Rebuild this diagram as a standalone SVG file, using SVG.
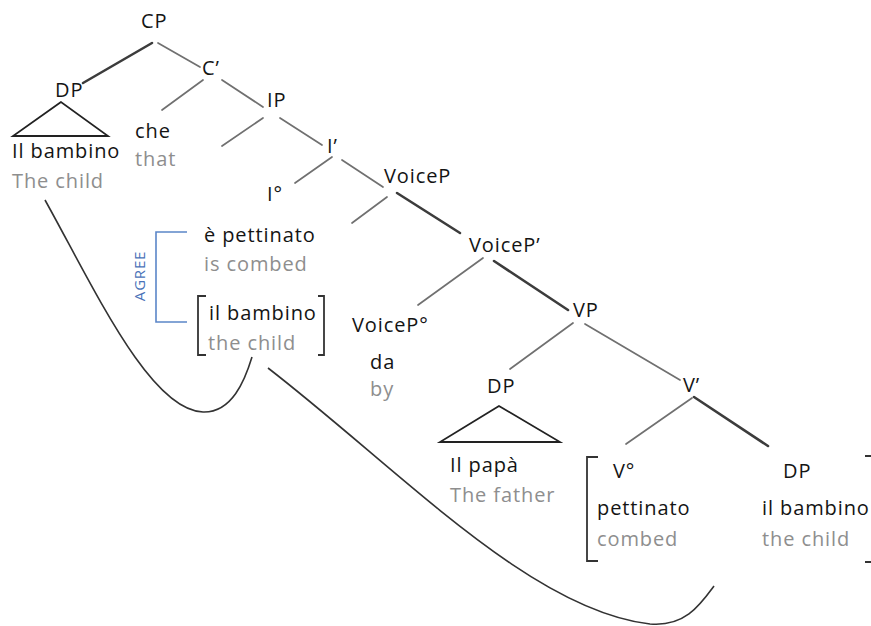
<svg xmlns="http://www.w3.org/2000/svg" width="871" height="626" viewBox="0 0 871 626">
  <style>
    text { font-family: "Open Sans", "Noto Sans", "DejaVu Sans", sans-serif; font-size: 20px; letter-spacing: 0.9px; }
    .lab { fill: #141414; }
    .gl { fill: #8e8e8e; }
    .agree { fill: #4a72b8; font-size: 15px; letter-spacing: 0.8px; }
    .edge { stroke: #707070; stroke-width: 1.7; fill: none; stroke-linecap: round; }
    .edge.heavy { stroke: #3c3c3c; stroke-width: 2.6; }
    .tri { stroke: #222; stroke-width: 1.8; fill: none; stroke-linejoin: miter; }
    .br { stroke: #333; stroke-width: 1.8; fill: none; }
    .br.blue { stroke: #5b86c8; stroke-width: 1.6; }
    .mv { stroke: #333; stroke-width: 1.6; fill: none; }
  </style>

  <!-- tree branches -->
  <g id="connectors">
    <line class="edge heavy" x1="152" y1="43" x2="83" y2="83"/>
    <line class="edge" x1="158" y1="43" x2="200" y2="67"/>
    <line class="edge" x1="203" y1="80" x2="162" y2="110"/>
    <line class="edge" x1="222" y1="80" x2="263" y2="107"/>
    <line class="edge" x1="263" y1="118" x2="222" y2="146"/>
    <line class="edge" x1="280" y1="118" x2="322" y2="145"/>
    <line class="edge" x1="332" y1="157" x2="295" y2="183"/>
    <line class="edge" x1="342" y1="160" x2="383" y2="187"/>
    <line class="edge" x1="387" y1="197" x2="352" y2="223"/>
    <line class="edge heavy" x1="397" y1="193" x2="460" y2="233"/>
    <line class="edge" x1="483" y1="258" x2="418" y2="305"/>
    <line class="edge heavy" x1="494" y1="261" x2="568" y2="310"/>
    <line class="edge" x1="573" y1="323" x2="510" y2="369"/>
    <line class="edge" x1="585" y1="324" x2="680" y2="380"/>
    <line class="edge" x1="692" y1="398" x2="626" y2="444"/>
    <line class="edge heavy" x1="694" y1="397" x2="768" y2="446"/>
    <!-- movement curves -->
    <path class="mv" d="M45,200 C95,290 150,410 203,412 C232,413 245,380 252,357"/>
    <path class="mv" d="M268,368 C400,470 530,610 650,624 C685,627 700,605 714,586"/>
  </g>

  <g id="cp"><text class="lab" x="141" y="28">CP</text></g>
  <g id="c-bar"><text class="lab" x="202" y="75">C’</text></g>
  <g id="dp-subject">
    <text class="lab" x="55" y="97">DP</text>
    <polygon class="tri" points="61,102 13,136 108,136"/>
    <text class="lab" x="12" y="158">Il bambino</text>
    <text class="gl" x="12" y="188">The child</text>
  </g>
  <g id="c-head">
    <text class="lab" x="135" y="138">che</text>
    <text class="gl" x="135" y="166">that</text>
  </g>
  <g id="ip"><text class="lab" x="267" y="107">IP</text></g>
  <g id="i-bar"><text class="lab" x="327" y="153">I’</text></g>
  <g id="i-head"><text class="lab" x="267" y="201">I°</text></g>
  <g id="voicep"><text class="lab" x="384" y="183">VoiceP</text></g>
  <g id="voicep-bar"><text class="lab" x="469" y="252">VoiceP’</text></g>
  <g id="aux-verb">
    <text class="lab" x="204" y="242">è pettinato</text>
    <text class="gl" x="204" y="271">is combed</text>
  </g>
  <g id="spec-copy">
    <path class="br" d="M206,296 H198 V355 H206"/>
    <path class="br" d="M318,296 H324 V355 H318"/>
    <text class="lab" x="209" y="320">il bambino</text>
    <text class="gl" x="208" y="350">the child</text>
  </g>
  <g id="agree">
    <path class="br blue" d="M187,232 H156 V322 H187"/>
    <text class="agree" transform="translate(145,276) rotate(-90)" text-anchor="middle">AGREE</text>
  </g>
  <g id="voice-head">
    <text class="lab" x="352" y="332">VoiceP°</text>
    <text class="lab" x="370" y="369">da</text>
    <text class="gl" x="370" y="396">by</text>
  </g>
  <g id="vp"><text class="lab" x="573" y="317">VP</text></g>
  <g id="dp-agent">
    <text class="lab" x="487" y="393">DP</text>
    <polygon class="tri" points="499,406 440,442 560,442"/>
    <text class="lab" x="450" y="472">Il papà</text>
    <text class="gl" x="450" y="502">The father</text>
  </g>
  <g id="v-bar"><text class="lab" x="683" y="392">V’</text></g>
  <g id="v-head">
    <path class="br" d="M598,457 H587 V561 H598"/>
    <text class="lab" x="613" y="478">V°</text>
    <text class="lab" x="597" y="515">pettinato</text>
    <text class="gl" x="597" y="546">combed</text>
  </g>
  <g id="dp-object">
    <path class="br" d="M865,456 H875 V562 H865"/>
    <text class="lab" x="783" y="478">DP</text>
    <text class="lab" x="762" y="515">il bambino</text>
    <text class="gl" x="762" y="546">the child</text>
  </g>
</svg>
